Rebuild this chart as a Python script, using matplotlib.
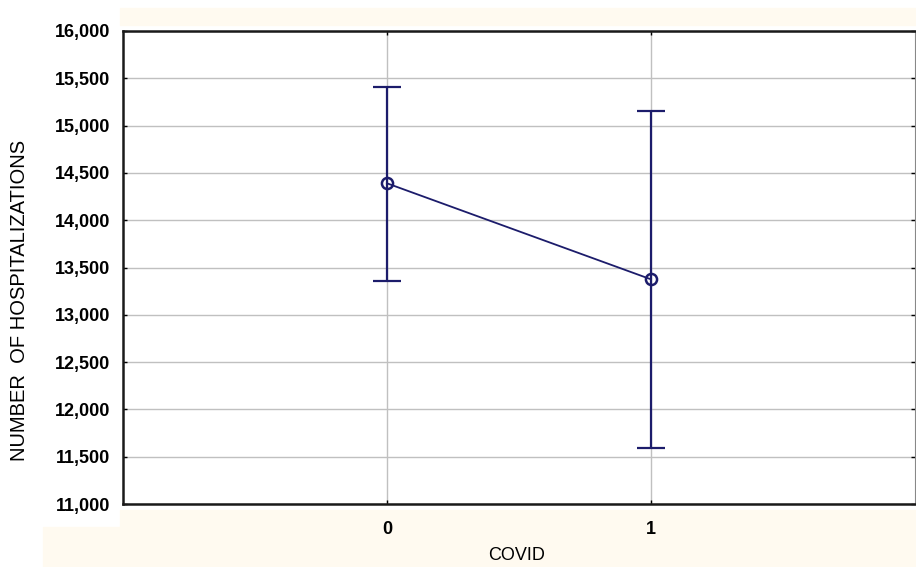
import matplotlib.pyplot as plt
from matplotlib.patches import Rectangle
from matplotlib.ticker import StrMethodFormatter

plt.rcParams['font.family'] = ['Liberation Sans', 'DejaVu Sans']

# data
covid = [0, 1]
means = [14390, 13375]
upper = [15410, 15150]
lower = [13360, 11590]

navy = '#1c1c6b'
cream = '#fffaf0'

fig = plt.figure(figsize=(9.16, 5.67), dpi=100)
fig.patch.set_facecolor('white')

# cream background bands like the screenshot (drawn under the axes)
for (x0, y0, w, h) in [(120, 8, 796, 17), (120, 510, 796, 57), (43, 527, 80, 40)]:
    fig.patches.append(Rectangle((x0 / 916, 1 - (y0 + h) / 567), w / 916, h / 567,
                                 transform=fig.transFigure, color=cream, zorder=-5))

ax = fig.add_axes([123 / 916, 1 - 504 / 567, 792 / 916, 473 / 567])
ax.set_facecolor('white')

yerr = [[m - lo for m, lo in zip(means, lower)],
        [up - m for m, up in zip(means, upper)]]
ax.errorbar(covid, means, yerr=yerr, fmt='none', ecolor=navy,
            elinewidth=1.6, capsize=10, capthick=1.6, zorder=3)
ax.plot(covid, means, color=navy, lw=1.3, marker='o', markersize=8,
        markerfacecolor='none', markeredgecolor=navy, markeredgewidth=1.8, zorder=4)

ax.set_xlim(-1, 2)
ax.set_ylim(11000, 16000)
ax.set_xticks(covid)
ax.set_xticklabels(['0', '1'])
ax.set_yticks(range(11000, 16001, 500))
ax.yaxis.set_major_formatter(StrMethodFormatter('{x:,.0f}'))

ax.grid(True, color='#c0c0c0', lw=1)
ax.set_axisbelow(True)

for s in ['left', 'bottom', 'top']:
    ax.spines[s].set_linewidth(1.8)
    ax.spines[s].set_color('#1a1a1a')
ax.spines['right'].set_linewidth(0.8)
ax.spines['right'].set_color('#888888')

ax.tick_params(direction='in', length=3, width=1, top=True, right=True,
               labelsize=13, pad=9)
for lab in ax.get_xticklabels() + ax.get_yticklabels():
    lab.set_fontweight('bold')
ax.tick_params(axis='x', pad=12)

fig.text(20 / 916, 1 - 300 / 567, 'NUMBER  OF HOSPITALIZATIONS', rotation=90,
         ha='center', va='center', fontsize=14.5)
fig.text(517 / 916, 1 - 556 / 567, 'COVID', ha='center', va='center', fontsize=13)

fig.savefig('out.png', dpi=100)
